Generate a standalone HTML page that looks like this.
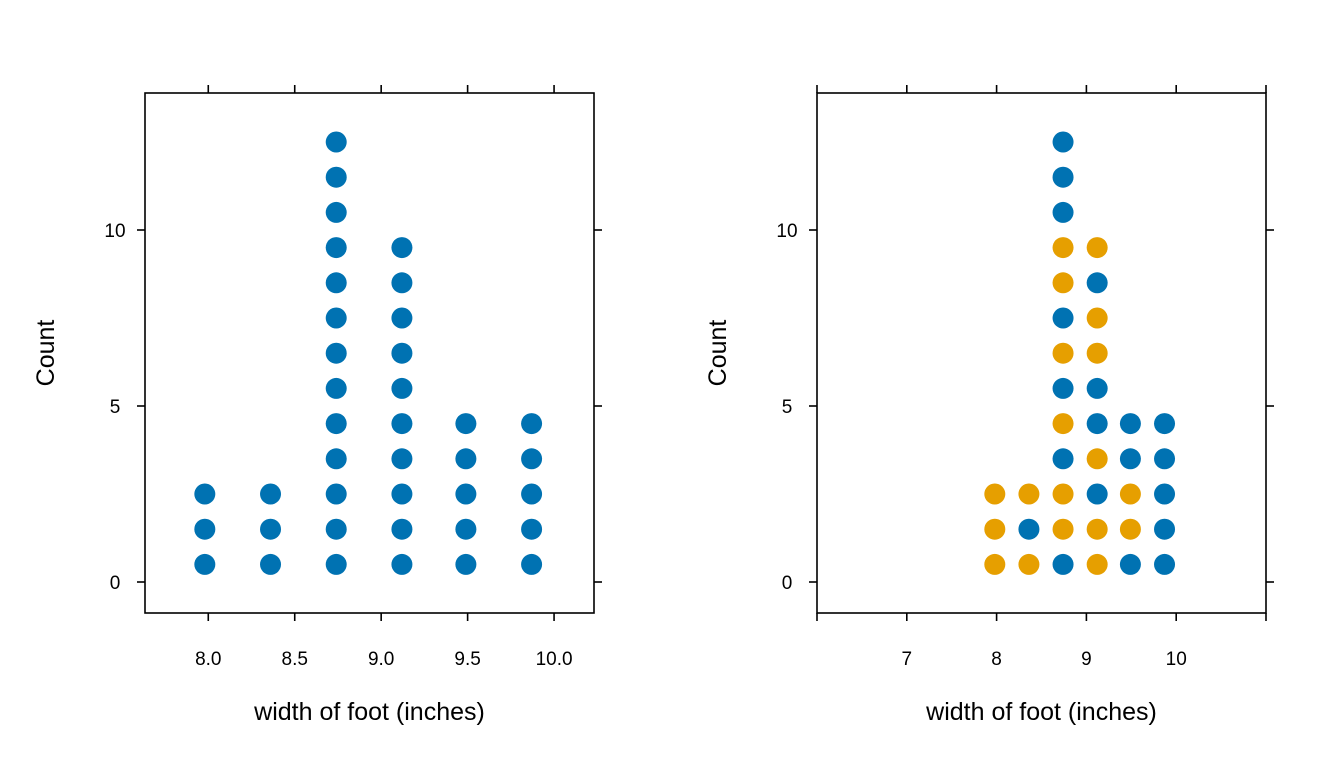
<!DOCTYPE html>
<html><head><meta charset="utf-8"><style>
body{margin:0;background:#fff;}
svg text{font-family:"Liberation Sans",Arial,sans-serif;fill:#000;}
</style></head><body>
<svg id="c" width="1344" height="768" xmlns="http://www.w3.org/2000/svg"></svg>
<script>
// data
const binCenters = [7.98, 8.36, 8.74, 9.12, 9.49, 9.87];
const leftCounts = [3, 3, 13, 10, 5, 5];
// right panel: colour groups per stack, bottom to top (o = orange, b = blue)
const rightGroups = [
  ["o","o","o"],
  ["o","b","o"],
  ["b","o","o","b","o","b","o","b","o","o","b","b","b"],
  ["o","o","b","o","b","b","o","o","b","o"],
  ["b","o","o","b","b"],
  ["b","b","b","b","b"]
];
const yTicks = [0, 5, 10];
const leftXTicks = [8.0, 8.5, 9.0, 9.5, 10.0];
const leftXLabels = ["8.0","8.5","9.0","9.5","10.0"];
const rightXTicks = [6, 7, 8, 9, 10, 11];
const rightXLabels = ["", "7", "8", "9", "10", ""];

const svgEl = document.getElementById('c');
const NS = 'http://www.w3.org/2000/svg';
function mk(tag, attrs, parent){const e=document.createElementNS(NS,tag);for(const k in attrs)e.setAttribute(k,attrs[k]);(parent||svgEl).appendChild(e);return e;}
const colors = {b:"#0072B2", o:"#E69F00"};
const plotTop=93, plotBot=613;
const yScale = v => 582 - v*35.2;

function panel(name, x0, x1, dmin, dmax, xt, xl, stacks){
  const g = mk('g',{});
  
  
  const xs = v => x0 + (v-dmin)/(dmax-dmin)*(x1-x0);
  const box = mk('rect',{x:x0,y:plotTop,width:x1-x0,height:plotBot-plotTop,fill:'none',stroke:'#000','stroke-width':1.6},g);
  
  
  xt.forEach((t,i)=>{
    const px=xs(t);
    mk('line',{x1:px,x2:px,y1:plotBot,y2:plotBot+8,stroke:'#000','stroke-width':1.6},g);
    mk('line',{x1:px,x2:px,y1:plotTop,y2:plotTop-8,stroke:'#000','stroke-width':1.6},g);
    if(xl[i]){const tx=mk('text',{x:px,y:665,'font-size':19,'text-anchor':'middle'},g);tx.textContent=xl[i];
      
      }
  });
  yTicks.forEach(t=>{
    const py=yScale(t);
    mk('line',{x1:x0,x2:x0-8,y1:py,y2:py,stroke:'#000','stroke-width':1.6},g);
    mk('line',{x1:x1,x2:x1+8,y1:py,y2:py,stroke:'#000','stroke-width':1.6},g);
    const tx=mk('text',{x:x0-30,y:py+7,'font-size':19,'text-anchor':'middle'},g);tx.textContent=t;
    
    
  });
  stacks.forEach((s,i)=>{
    s.forEach((c,j)=>{
      const d=mk('circle',{cx:xs(binCenters[i]),cy:yScale(j+0.5),r:10.5,fill:colors[c]},g);
      
      
    });
  });
  const xtitle=mk('text',{x:(x0+x1)/2,y:720,'font-size':25,'text-anchor':'middle'},g);xtitle.textContent='width of foot (inches)';
  
  
  const cx=x0-91;
  const ytitle=mk('text',{x:cx,y:353,'font-size':25,'text-anchor':'middle',transform:`rotate(-90 ${cx} 353)`},g);ytitle.textContent='Count';
  
  
}
const leftStacks = leftCounts.map(n=>Array(n).fill('b'));
panel('left-panel',145,594,7.634,10.231,leftXTicks,leftXLabels,leftStacks);
panel('right-panel',817,1266,6,11,rightXTicks,rightXLabels,rightGroups);
</script>
</body></html>
